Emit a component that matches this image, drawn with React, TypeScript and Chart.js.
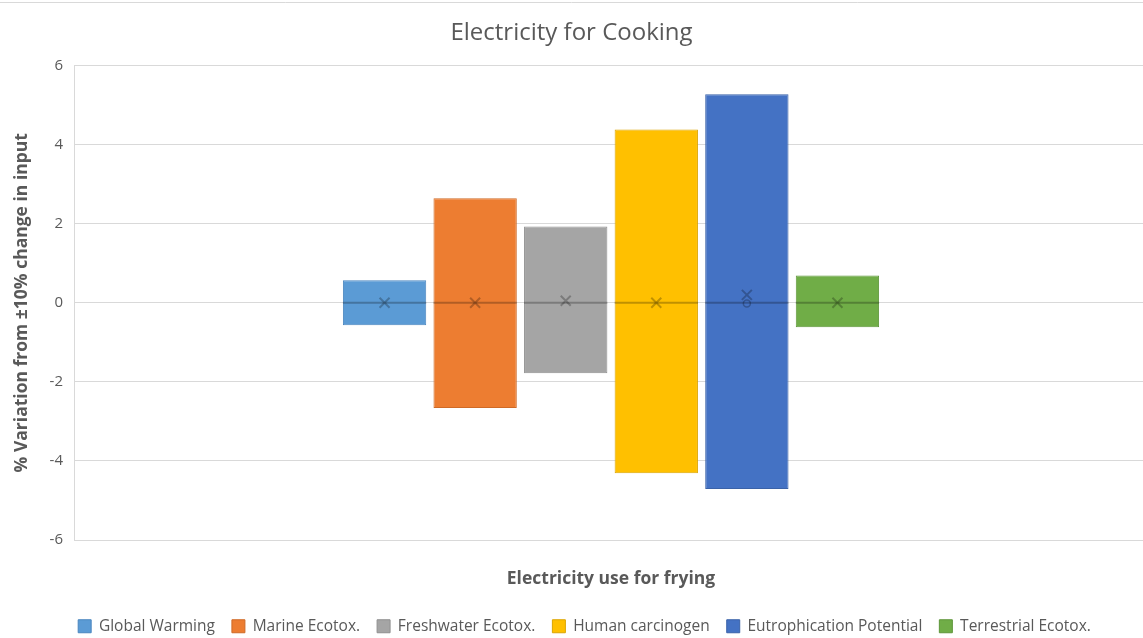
import React, { useEffect, useRef } from "react";
import { Chart, registerables } from "chart.js";

Chart.register(...registerables);

const categories = ["Electricity use for frying"];
const seriesNames = [
  "Global Warming",
  "Marine Ecotox.",
  "Freshwater Ecotox.",
  "Human carcinogen",
  "Eutrophication Potential",
  "Terrestrial Ecotox.",
];
const lowValues = [-0.57, -2.66, -1.78, -4.31, -4.71, -0.62];
const highValues = [0.57, 2.64, 1.93, 4.38, 5.27, 0.69];
const medianValues = [0, 0, 0, 0, 0, 0];
const meanValues = [0, 0, 0.05, 0, 0.2, 0];
const innerPoints: (number | null)[] = [null, null, null, null, -0.02, null];
const fillColors = ["#5B9BD5", "#ED7D31", "#A5A5A5", "#FFC000", "#4472C4", "#70AD47"];
const borderColors = ["#4a86bf", "#cf6a26", "#8f8f8f", "#dba500", "#3a62a8", "#5e963a"];
const yTicks = [-6, -4, -2, 0, 2, 4, 6];

const FONT = "'Open Sans', 'Liberation Sans', sans-serif";
const TEXT = "#595959";

const boxPlugin = {
  id: "boxExtras",
  afterDatasetsDraw(chart: any) {
    const ctx = chart.ctx;
    const y = chart.scales.y;
    chart.data.datasets.forEach((_: any, i: number) => {
      const meta = chart.getDatasetMeta(i);
      const bar = meta.data[0];
      if (!bar) return;
      const { x, width } = bar.getProps(["x", "width"], true);
      ctx.save();
      const my = y.getPixelForValue(medianValues[i]);
      ctx.strokeStyle = "rgba(0,0,0,0.25)";
      ctx.lineWidth = 2;
      ctx.beginPath();
      ctx.moveTo(x - width / 2, my);
      ctx.lineTo(x + width / 2, my);
      ctx.stroke();
      const cy = y.getPixelForValue(meanValues[i]);
      const r = 5;
      ctx.strokeStyle = "rgba(0,0,0,0.25)";
      ctx.lineWidth = 2;
      ctx.beginPath();
      ctx.moveTo(x - r, cy - r);
      ctx.lineTo(x + r, cy + r);
      ctx.moveTo(x + r, cy - r);
      ctx.lineTo(x - r, cy + r);
      ctx.stroke();
      const ip = innerPoints[i];
      if (ip !== null && ip !== undefined) {
        const py = y.getPixelForValue(ip);
        ctx.lineWidth = 1.5;
        ctx.beginPath();
        ctx.arc(x, py, 3.5, 0, Math.PI * 2);
        ctx.stroke();
      }
      ctx.restore();
    });
  },
};

const frameLine = {
  id: "frameLine",
  afterLayout(chart: any) {
    if (chart.legend) {
      chart.legend.top += 6;
      chart.legend.bottom += 6;
      chart.legend.left += 13;
      chart.legend.right += 13;
    }
    const x = chart.scales.x;
    if (x) {
      x.right += 5;
      x.width += 5;
      x.configure();
    }
  },
  beforeDraw(chart: any) {
    const ctx = chart.ctx;
    ctx.save();
    ctx.strokeStyle = "#d9d9d9";
    ctx.lineWidth = 1;
    ctx.beginPath();
    ctx.moveTo(0, 2.5);
    ctx.lineTo(chart.width, 2.5);
    ctx.stroke();
    ctx.restore();
  },
};

export default function App() {
  const ref = useRef<HTMLCanvasElement | null>(null);
  useEffect(() => {
    if (!ref.current) return;
    const chart = new Chart(ref.current, {
      type: "bar",
      data: {
        labels: categories,
        datasets: seriesNames.map((name, i) => ({
          label: name,
          data: [[lowValues[i], highValues[i]]] as any,
          backgroundColor: fillColors[i],
          borderColor: borderColors[i],
          borderWidth: 1,
          borderSkipped: false,
          barPercentage: 0.92,
          categoryPercentage: 0.506,
        })),
      },
      options: {
        responsive: false,
        animation: false,
        layout: { padding: { left: 0, right: 0, top: 0, bottom: 0 } },
        plugins: {
          title: {
            display: true,
            text: "Electricity for Cooking",
            color: TEXT,
            font: { family: FONT, size: 24, weight: "normal" },
            padding: { top: 18.5, bottom: 18.2 },
          },
          legend: {
            position: "bottom",
            labels: {
              color: TEXT,
              font: { family: FONT, size: 15.5 },
              boxWidth: 13,
              boxHeight: 13,
              padding: 17,
            },
          },
          tooltip: { enabled: false },
        },
        scales: {
          x: {
            ticks: { display: false },
            grid: { display: false },
            border: { display: false },
            title: {
              display: true,
              text: "Electricity use for frying",
              color: TEXT,
              font: { family: FONT, size: 17.5, weight: "bold" },
              padding: { top: 0, bottom: 6 },
            },
            afterFit: (s: any) => {
              s.height = 55.5;
            },
          },
          y: {
            min: -6,
            max: 6,
            afterBuildTicks: (s: any) => {
              s.ticks = yTicks.map((v) => ({ value: v }));
            },
            ticks: {
              color: TEXT,
              font: { family: FONT, size: 15 },
              padding: 11,
            },
            grid: { color: "#d9d9d9", drawTicks: false, lineWidth: 1 },
            border: { display: true, color: "#d9d9d9" },
            title: {
              display: true,
              text: "% Variation from ±10% change in input",
              color: TEXT,
              font: { family: FONT, size: 17.5, weight: "bold" },
              padding: { top: 11.5, bottom: 0 },
            },
            afterFit: (s: any) => {
              s.width = 74;
            },
          },
        },
      },
      plugins: [boxPlugin, frameLine],
    });
    return () => chart.destroy();
  }, []);
  return (
    <div style={{ position: "fixed", left: 0, top: 0, width: 1143, height: 638, background: "#fff" }}>
      <canvas ref={ref} width={1143} height={638} />
    </div>
  );
}
